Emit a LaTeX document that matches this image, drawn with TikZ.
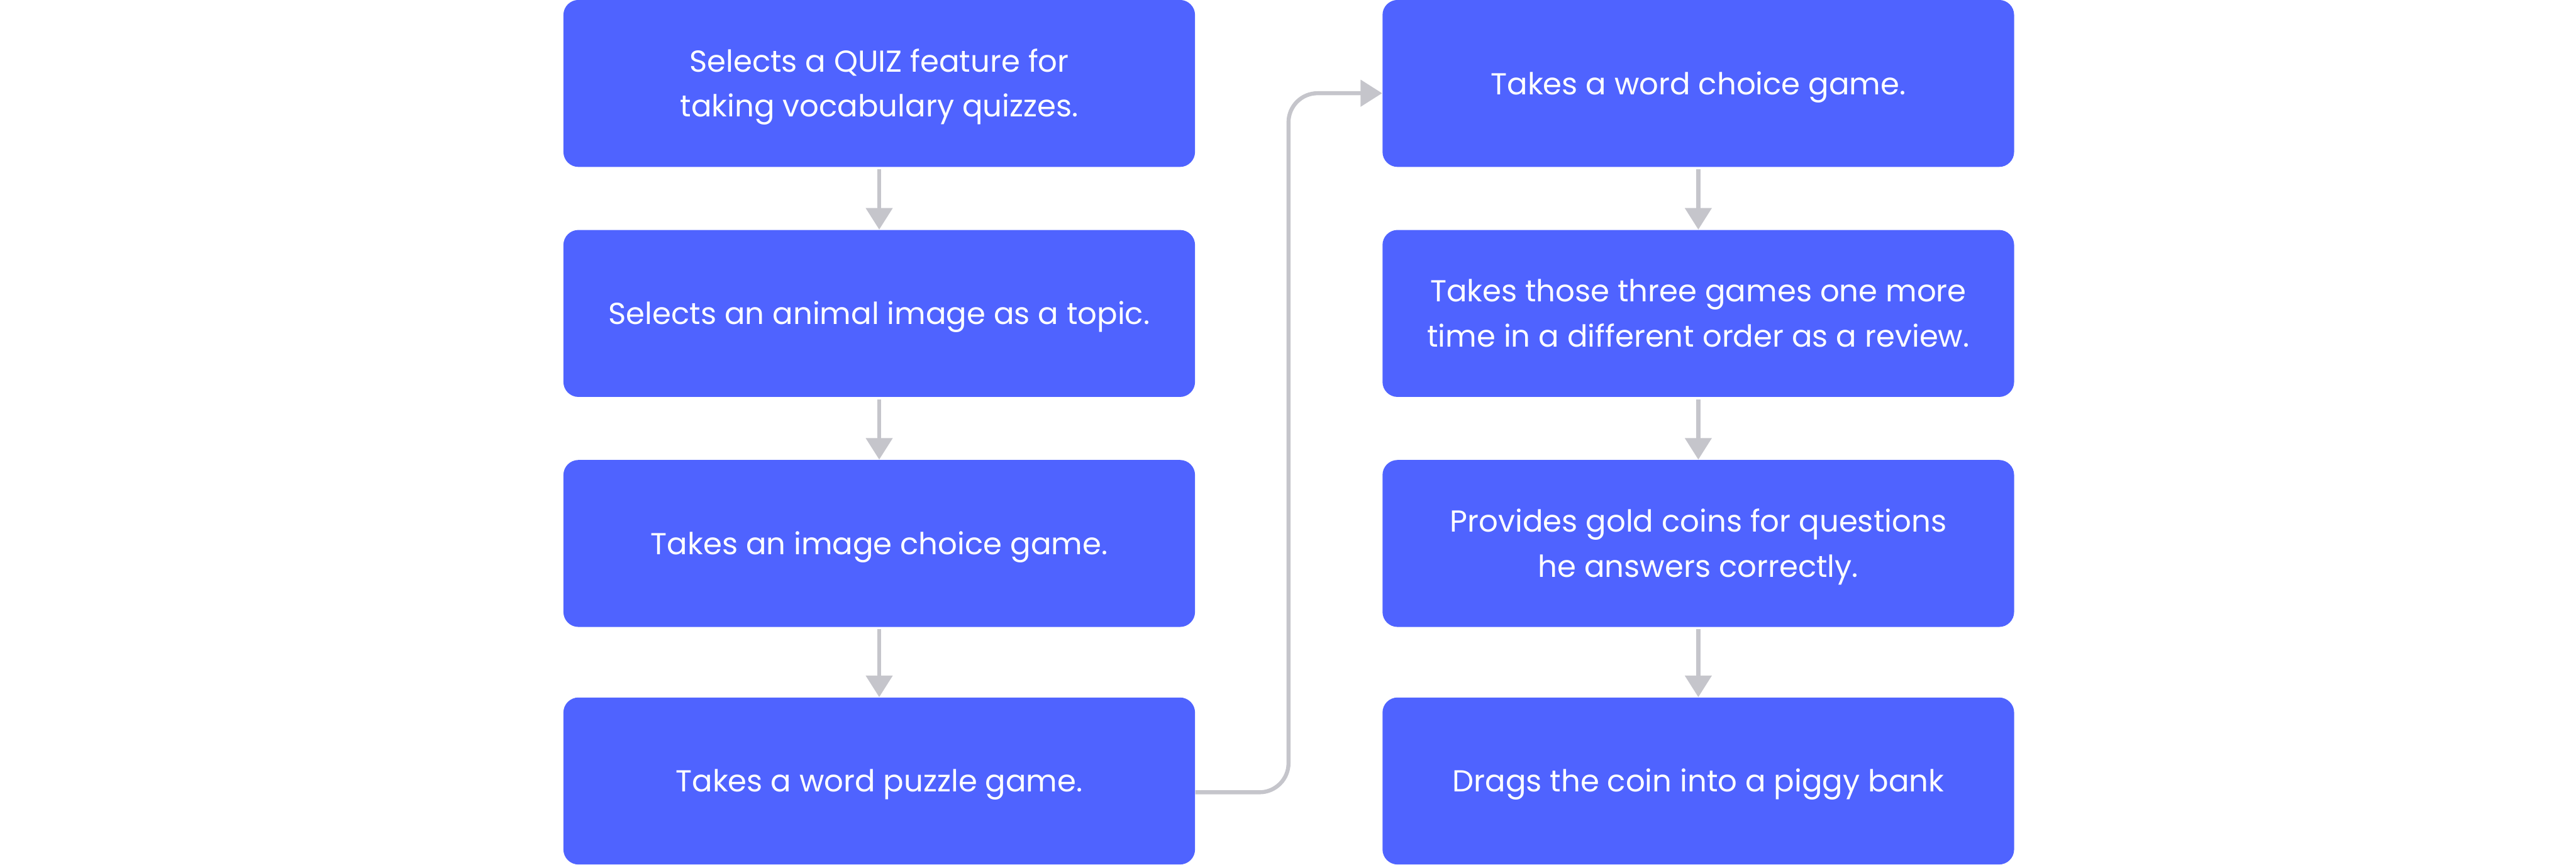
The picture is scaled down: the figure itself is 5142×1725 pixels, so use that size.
\documentclass[tikz,border=0pt]{standalone}
\usepackage{fontspec}
\setmainfont{Poppins}
\usetikzlibrary{arrows.meta}
\definecolor{boxblue}{HTML}{4F63FF}
\definecolor{arrgray}{HTML}{C5C5CB}
\tikzset{
  stepbox/.style={fill=boxblue, draw=none, rounded corners=0.3cm,
    minimum width=12.6cm, minimum height=3.33cm, inner sep=0pt},
  steptext/.style={text=white, align=center, inner sep=0pt, yshift=-0.07cm,
    font=\fontsize{17.2pt}{25.6pt}\selectfont},
  arr/.style={draw=arrgray, line width=0.08cm,
    -{Triangle[length=0.43cm,width=0.52cm]}}
}
\begin{document}
\begin{tikzpicture}[x=0.01cm,y=-0.01cm]
\useasboundingbox (0,0) rectangle (5142,1725);
\node[stepbox, label={[steptext]center:{Selects a QUIZ feature for\\taking vocabulary quizzes.}}] (L1) at (1755,166.5) {};
\node[stepbox, label={[steptext]center:{Selects an animal image as a topic.}}] (L2) at (1755,625.5) {};
\node[stepbox, label={[steptext]center:{Takes an image choice game.}}] (L3) at (1755,1084.5) {};
\node[stepbox, label={[steptext]center:{Takes a word puzzle game.}}] (L4) at (1755,1558.5) {};
\node[stepbox, label={[steptext]center:{Takes a word choice game.}}] (R1) at (3390,166.5) {};
\node[stepbox, label={[steptext]center:{Takes those three games one more\\time in a different order as a review.\vphantom{g}}}] (R2) at (3390,625.5) {};
\node[stepbox, label={[steptext]center:{Provides gold coins for questions\\he answers correctly.}}] (R3) at (3390,1084.5) {};
\node[stepbox, label={[steptext]center:{Drags the coin into a piggy bank}}] (R4) at (3390,1558.5) {};
\draw[arr] ([yshift=-0.04cm]L1.south) -- (L2.north);
\draw[arr] ([yshift=-0.04cm]L2.south) -- (L3.north);
\draw[arr] ([yshift=-0.04cm]L3.south) -- (L4.north);
\draw[arr] ([yshift=-0.04cm]R1.south) -- (R2.north);
\draw[arr] ([yshift=-0.04cm]R2.south) -- (R3.north);
\draw[arr] ([yshift=-0.04cm]R3.south) -- (R4.north);
\coordinate (mid) at (2572,0);
\coordinate (a) at ([yshift=-0.225cm]L4.east);
\coordinate (b) at ([yshift=-0.195cm]R1.west);
\draw[arr, rounded corners=0.58cm] (a) -- (a -| mid) -- (mid |- b) -- (b);
\end{tikzpicture}
\end{document}
